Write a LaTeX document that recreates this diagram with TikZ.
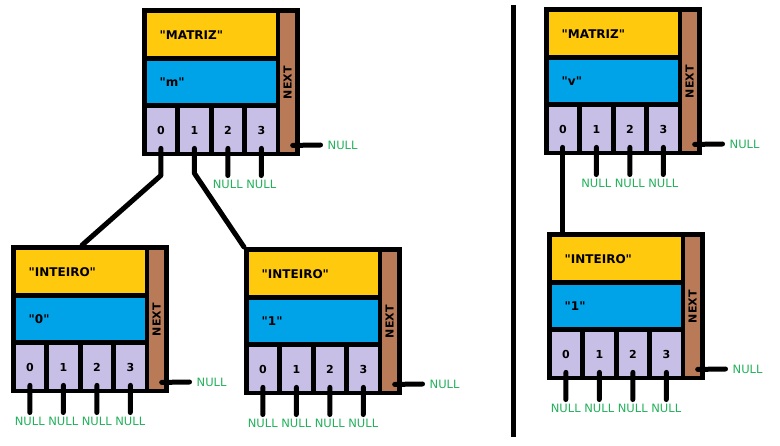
\documentclass[tikz,border=0pt]{standalone}
\usepackage{fontspec}
\setmainfont{DejaVu Sans}
\usepackage{tikz}
\usetikzlibrary{positioning,calc}
\definecolor{amarelo}{RGB}{255,201,14}
\definecolor{azul}{RGB}{0,162,232}
\definecolor{lilas}{RGB}{200,191,231}
\definecolor{marrom}{RGB}{185,122,87}
\definecolor{verdenull}{RGB}{34,177,90}
\newcommand{\aspas}[1]{\textquotedbl#1\textquotedbl}
\tikzset{caixa/.style={fill=black,inner sep=0pt,minimum width=158pt,minimum height=148pt,anchor=north west}}
\tikzset{campo/.style={inner sep=0pt,inner xsep=13pt,text width=103pt,align=left,minimum height=#1,anchor=north west,font=\fontsize{12}{14}\selectfont\bfseries}}
\tikzset{celula/.style={fill=lilas,inner sep=0pt,minimum width=28.5pt,minimum height=44pt,anchor=north west,font=\fontsize{11}{13}\selectfont\bfseries}}
\tikzset{prox/.style={fill=marrom,inner sep=0pt,minimum width=15pt,minimum height=139pt,anchor=north west}}
\tikzset{null/.style={text=verdenull,inner sep=1.5pt,font=\fontsize{11.5}{13}\selectfont}}
\tikzset{fio/.style={line width=5pt,line cap=round,line join=round}}
\newcommand{\registro}[6]{%
  \node[caixa] (#1) at (#2,#3) {};
  \node[campo=43pt,fill=amarelo] (#1-tipo) at (#2+4.5,#3+5) {\aspas{#4}};
  \node[campo=42pt,fill=azul] (#1-valor) at (#2+4.5,#3+53) {\aspas{#5}};
  \foreach \i in {0,...,3}
    \node[celula] (#1-c\i) at (#2+4.5+33.5*\i,#3+100) {\i};
  \node[prox] (#1-prox) at (#2+138,#3+5) {};
  \node[rotate=90,font=\fontsize{11}{13}\selectfont\bfseries] at (#1-prox.center) {NEXT};
  \node[null,anchor=west] (#1-pnull) at (#2+184,#3+137) {NULL};
  \draw[fio] ([xshift=5pt,yshift=7pt]#1-prox.south) -- ([xshift=-5.5pt]#1-pnull.west);
  \foreach \i in {#6} {
    \node[null] (#1-n\i) at (#2+18.75+33.5*\i,#3+176) {NULL};
    \draw[fio,shorten >=2.5pt] ([yshift=4pt]#1-c\i.south) -- (#1-n\i.north);
  }
}

\begin{document}
\begin{tikzpicture}[x=1pt, y=-1pt]
    \useasboundingbox (0,0) rectangle (780,446);
    \registro{m}{142}{8}{MATRIZ}{m}{2,3}
    \registro{i0}{11}{245}{INTEIRO}{0}{0,...,3}
    \registro{i1}{244}{247}{INTEIRO}{1}{0,...,3}
    \registro{v}{544}{7}{MATRIZ}{v}{1,2,3}
    \registro{i2}{547}{232}{INTEIRO}{1}{0,...,3}
    \draw[fio] ([yshift=4pt]m-c0.south) -- ++(0,27) -- ([xshift=-8pt]i0.north);
    \draw[fio] ([yshift=4pt]m-c1.south) -- ++(0,25) -- (i1.north west);
    \draw[fio] ([yshift=4pt]v-c0.south) -- (v-c0.south |- i2.north);
    \coordinate (topo) at (513,5);
    \coordinate (base) at (513,437);
    \draw[line width=5pt] (topo) -- (base);
\end{tikzpicture}
\end{document}
